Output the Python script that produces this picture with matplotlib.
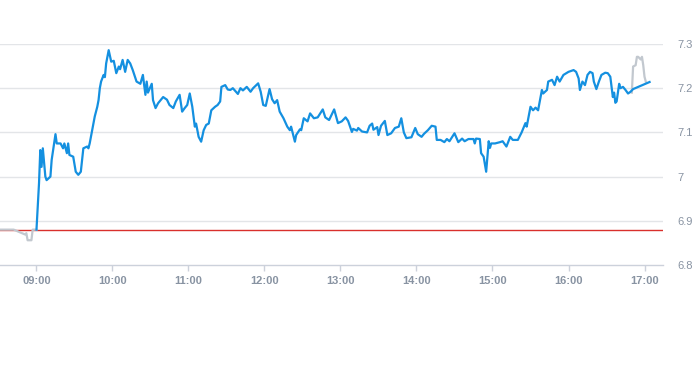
import matplotlib
matplotlib.use("Agg")
import matplotlib.pyplot as plt
import numpy as np

# ---- data (minutes after 09:00, price) ----
main_minutes = [0, 2, 3, 4, 5, 7, 8, 11, 12, 15, 16, 19, 21, 22, 24, 25, 26, 29, 31, 33,
                35, 37, 40, 41, 42, 45, 46, 48, 49, 50, 51, 53, 54, 55, 57, 59, 61, 63, 65, 66,
                68, 70, 72, 74, 76, 79, 82, 84, 86, 87, 88, 91, 92, 94, 96, 100, 103, 105, 108, 110,
                113, 115, 117, 119, 121, 123, 125, 126, 128, 130, 132, 134, 136, 138, 141, 143, 145, 146, 149, 151,
                153, 155, 159, 161, 163, 166, 169, 171, 175, 177, 179, 181, 184, 186, 188, 190, 192, 195, 198, 200,
                201, 204, 205, 208, 209, 211, 214, 216, 219, 222, 226, 228, 231, 235, 238, 241, 244, 246, 249, 250,
                253, 254, 257, 261, 263, 265, 266, 269, 270, 272, 275, 276, 277, 280, 283, 286, 288, 290, 292, 296,
                299, 301, 304, 306, 309, 312, 315, 316, 319, 322, 324, 326, 330, 333, 336, 338, 341, 345, 346, 347,
                350, 351, 353, 355, 357, 358, 359, 362, 366, 368, 371, 374, 376, 380, 383, 386, 387, 388, 390, 392,
                394, 396, 398, 399, 400, 403, 404, 407, 409, 411, 413, 416, 420, 424, 426, 428, 429, 431, 433, 435,
                437, 439, 440, 442, 444, 446, 449, 451, 453, 455, 456, 457, 458, 460, 461, 463, 465, 467, 469, 471,
                484]
main_prices = [6.880, 6.985, 7.060, 7.022, 7.064, 7.000, 6.992, 7.000, 7.038, 7.096, 7.075, 7.075, 7.064, 7.075, 7.053, 7.075, 7.049, 7.045, 7.011, 7.004,
               7.011, 7.064, 7.068, 7.064, 7.075, 7.120, 7.136, 7.158, 7.173, 7.200, 7.215, 7.230, 7.225, 7.256, 7.286, 7.260, 7.262, 7.234, 7.249, 7.243,
               7.264, 7.237, 7.264, 7.256, 7.241, 7.215, 7.210, 7.230, 7.185, 7.215, 7.190, 7.210, 7.173, 7.155, 7.166, 7.180, 7.174, 7.162, 7.155, 7.170,
               7.185, 7.147, 7.155, 7.162, 7.188, 7.158, 7.113, 7.120, 7.090, 7.079, 7.105, 7.117, 7.120, 7.150, 7.158, 7.162, 7.170, 7.203, 7.207, 7.197,
               7.196, 7.200, 7.187, 7.200, 7.195, 7.203, 7.192, 7.200, 7.211, 7.192, 7.162, 7.160, 7.198, 7.175, 7.166, 7.173, 7.147, 7.132, 7.113, 7.105,
               7.113, 7.079, 7.094, 7.107, 7.105, 7.132, 7.125, 7.143, 7.132, 7.134, 7.152, 7.134, 7.128, 7.152, 7.121, 7.125, 7.134, 7.126, 7.101, 7.108,
               7.104, 7.110, 7.102, 7.100, 7.115, 7.120, 7.106, 7.112, 7.094, 7.115, 7.126, 7.110, 7.094, 7.098, 7.110, 7.113, 7.132, 7.100, 7.087, 7.089,
               7.110, 7.096, 7.090, 7.097, 7.105, 7.115, 7.113, 7.083, 7.083, 7.078, 7.085, 7.080, 7.098, 7.078, 7.086, 7.080, 7.085, 7.085, 7.075, 7.086,
               7.085, 7.053, 7.045, 7.011, 7.080, 7.065, 7.075, 7.075, 7.078, 7.080, 7.068, 7.090, 7.083, 7.083, 7.100, 7.121, 7.113, 7.128, 7.158, 7.150,
               7.156, 7.150, 7.180, 7.196, 7.188, 7.196, 7.215, 7.219, 7.207, 7.226, 7.215, 7.230, 7.237, 7.241, 7.237, 7.222, 7.196, 7.215, 7.207, 7.230,
               7.237, 7.234, 7.215, 7.198, 7.215, 7.230, 7.235, 7.234, 7.226, 7.180, 7.190, 7.167, 7.170, 7.210, 7.200, 7.203, 7.196, 7.188, 7.192, 7.198,
               7.214]

pre_minutes = [-29, -18, -9, -8, -7, -4, -3, 0]
pre_prices = [6.880, 6.880, 6.869, 6.872, 6.856, 6.856, 6.880, 6.880]

post_minutes = [470, 471, 473, 474, 475, 477, 478, 479, 480, 481]
post_prices = [7.190, 7.249, 7.252, 7.271, 7.271, 7.265, 7.271, 7.252, 7.226, 7.215]

prev_close = 6.88

hour_ticks = [0, 60, 120, 180, 240, 300, 360, 420, 480]
hour_labels = ["09:00", "10:00", "11:00", "12:00", "13:00", "14:00", "15:00", "16:00", "17:00"]
y_ticks = [6.8, 6.9, 7.0, 7.1, 7.2, 7.3]
y_labels = ["6.8", "6.9", "7", "7.1", "7.2", "7.3"]

# ---- figure ----
W, H = 693, 365
fig = plt.figure(figsize=(W / 100, H / 100), dpi=100)
ax = fig.add_axes([0, 1 - 265 / H, 663 / W, (265 - 44) / H])

ax.set_xlim(-28.8, 494.6)
ax.set_ylim(6.8, 7.3)

for yv in y_ticks[1:]:
    ax.axhline(yv, color="#e3e5e8", lw=1.0, zorder=0)

ax.axhline(prev_close, color="#d9302c", lw=1.0, zorder=1)

ax.plot(pre_minutes, pre_prices, color="#c2c8cf", lw=1.6, zorder=2, solid_joinstyle="round")
ax.plot(post_minutes, post_prices, color="#c2c8cf", lw=1.6, zorder=2, solid_joinstyle="round")
ax.plot(main_minutes, main_prices, color="#1490e0", lw=1.6, zorder=3, solid_joinstyle="round")

for s in ["top", "left", "right"]:
    ax.spines[s].set_visible(False)
ax.spines["bottom"].set_color("#ccd1db")
ax.spines["bottom"].set_linewidth(1.0)

ax.set_xticks(hour_ticks)
ax.set_xticklabels(hour_labels)
ax.tick_params(axis="x", length=4, width=1, color="#ccd1db", pad=4,
               labelsize=8.0, labelcolor="#8893a2")
for lbl in ax.get_xticklabels():
    lbl.set_fontfamily("Liberation Sans")
    lbl.set_fontweight("bold")

ax.yaxis.tick_right()
ax.set_yticks(y_ticks)
ax.set_yticklabels(y_labels)
ax.tick_params(axis="y", length=0, pad=10.5, labelsize=8.0, labelcolor="#8893a2")
for lbl in ax.get_yticklabels():
    lbl.set_fontfamily("Liberation Sans")

fig.savefig("out.png", dpi=100)
